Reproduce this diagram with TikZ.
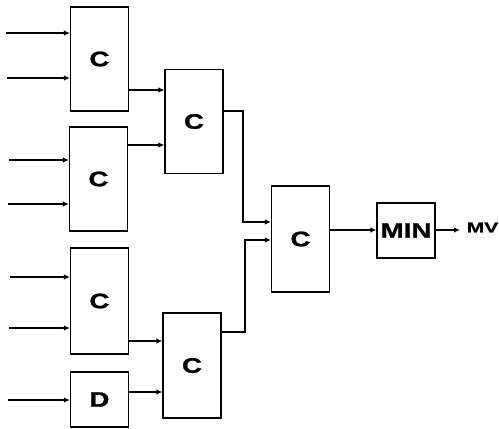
\documentclass[tikz,border=0pt]{standalone}
\usepackage{fontspec}
\usetikzlibrary{arrows.meta}
% wide, heavy sans lettering for the block labels
\newfontfamily\blockfont[FakeStretch=1.32,BoldFeatures={FakeBold=1.3}]{Liberation Sans}
\newfontfamily\outfont[FakeStretch=1.45,BoldFeatures={FakeBold=0.8}]{Liberation Sans}
\begin{document}
\begin{tikzpicture}[x=1pt,y=-1pt,
  blk/.style={draw=black,line width=1.2pt,minimum width=58pt,inner sep=0pt,
              font=\blockfont\fontsize{21}{21}\bfseries\selectfont},
  tall/.style={blk,minimum height=104pt},
  short/.style={blk,minimum height=55pt},
  wire/.style={line width=1.2pt,-{Latex[length=6pt,width=5.5pt]}},
  line/.style={line width=1.2pt}]
\useasboundingbox (0,0) rectangle (499,429);
% first column of comparators
\node[tall]  (c1)  at (99.5,59)    {C};
\node[tall]  (c2)  at (98.5,179)   {C};
\node[tall,minimum height=106pt] (c3) at (99.5,301) {C};
\node[short] (d)   at (99.5,399.5) {D};
% second column
\node[tall]  (c12) at (194,121.5)  {C};
\node[tall,minimum height=105pt] (c34) at (192,365.5) {C};
% final stages
\node[tall,minimum height=106pt] (c5) at (300.5,239) {C};
\node[short] (min) at (406,230.5)  {MIN};
\node[font=\outfont\fontsize{14.5}{14.5}\bfseries\selectfont,inner sep=0pt] (mv) at (482.5,227.5) {MV};
% free ends of the input lines
\coordinate (i1) at (6,33);
\coordinate (i2) at (7,78);
\coordinate (i3) at (9,160);
\coordinate (i4) at (8,204);
\coordinate (i5) at (10,277);
\coordinate (i6) at (9,328);
\coordinate (i7) at (8,400);
\draw[wire] (i1) -- (i1 -| c1.west);
\draw[wire] (i2) -- (i2 -| c1.west);
\draw[wire] (i3) -- (i3 -| c2.west);
\draw[wire] (i4) -- (i4 -| c2.west);
\draw[wire] (i5) -- (i5 -| c3.west);
\draw[wire] (i6) -- (i6 -| c3.west);
\draw[wire] (i7) -- (i7 -| d.west);
% first column into second column
\draw[wire] (c1.east |- 0,90)   -- (c12.west |- 0,90);
\draw[wire] (c2.east |- 0,145)  -- (c12.west |- 0,145);
\draw[wire] (c3.east |- 0,341)  -- (c34.west |- 0,341);
\draw[wire] (d.east |- 0,392)   -- (c34.west |- 0,392);
% second column into the last comparator
\draw[wire] (c12.east |- 0,111) -- (243,111) -- (243,222) -- (c5.west |- 0,222);
\draw[wire] (c34.east |- 0,332) -- (245,332) -- (245,240) -- (c5.west |- 0,240);
% comparator into minimum, minimum to output
\draw[wire] (c5.east |- 0,230) -- (min.west |- 0,230);
\draw[wire] (min.east |- 0,230) -- (460,230);
\end{tikzpicture}
\end{document}
